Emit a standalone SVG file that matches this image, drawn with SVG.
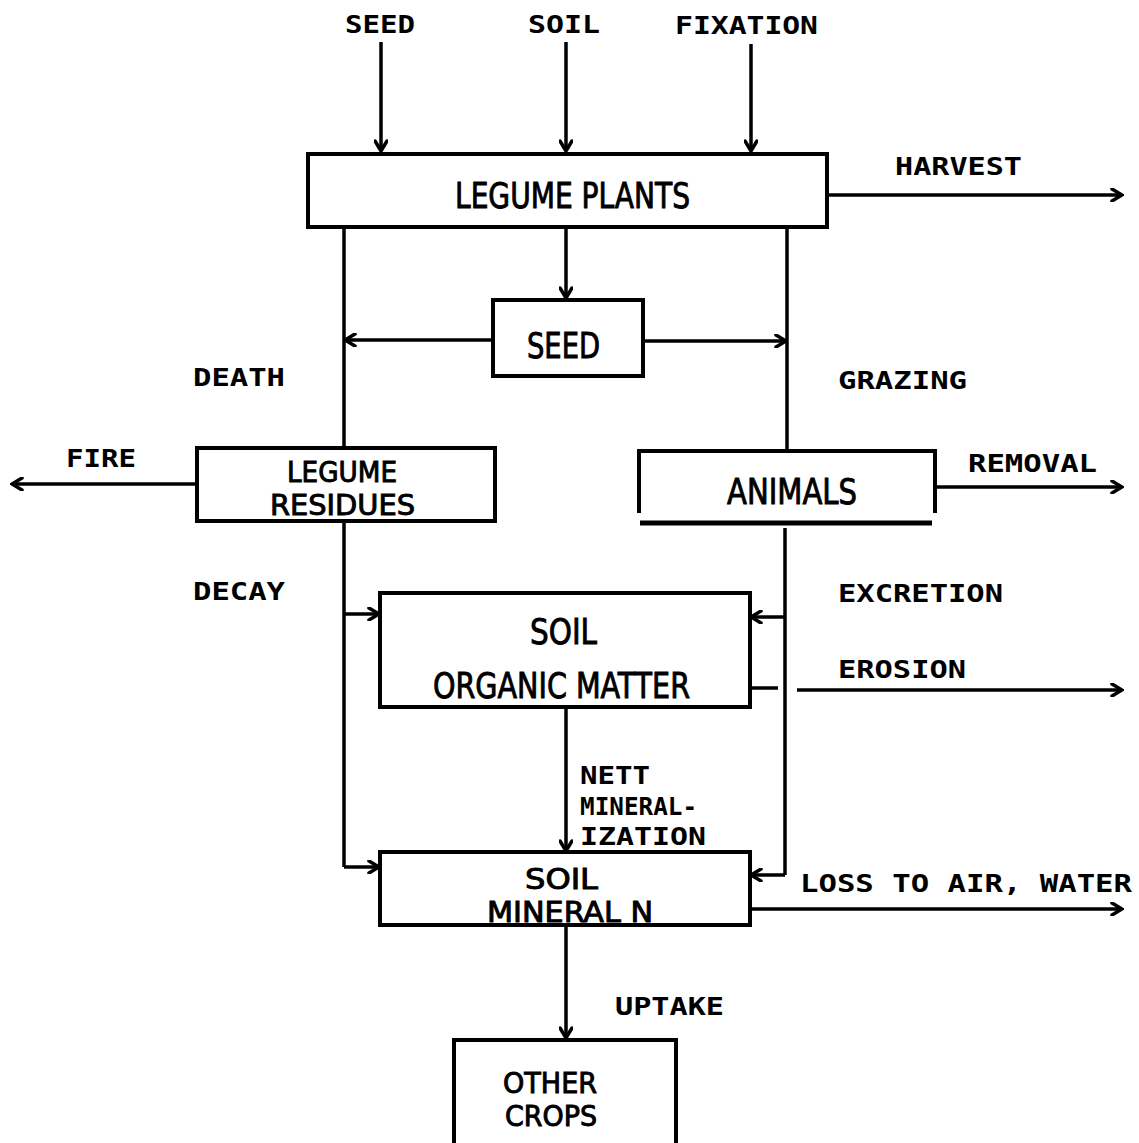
<svg xmlns="http://www.w3.org/2000/svg" width="1139" height="1143" viewBox="0 0 1139 1143">
<style>
.box{fill:none;stroke:#000;stroke-width:4}
.ln{fill:none;stroke:#000;stroke-width:3.5}
.lb{font-family:"DejaVu Sans Mono","Liberation Mono",monospace;font-weight:bold;font-size:24px;fill:#000}
.bx{font-family:"DejaVu Sans Condensed","Liberation Sans Narrow","Liberation Sans",sans-serif;font-size:36px;fill:#000;stroke:#000;stroke-width:0.9}
.b2{font-size:29px}
.a{marker-end:url(#ah)}
</style>
<defs>
<marker id="ah" markerWidth="14" markerHeight="14" viewBox="-12 -7 14 14" refX="0" refY="0" orient="auto" markerUnits="userSpaceOnUse">
<path d="M-10,-6 L0,0 L-10,6" fill="none" stroke="#000" stroke-width="3.5" stroke-linecap="round"/>
</marker>
</defs>
<rect width="1139" height="1143" fill="#fff"/>
<g id="connectors">
<line class="ln a" x1="381" y1="42" x2="381" y2="151"/>
<line class="ln a" x1="566" y1="42" x2="566" y2="151"/>
<line class="ln a" x1="751" y1="44" x2="751" y2="151"/>
<line class="ln a" x1="827" y1="195" x2="1122" y2="195"/>
<line class="ln a" x1="566" y1="227" x2="566" y2="298"/>
<line class="ln" x1="344" y1="227" x2="344" y2="447"/>
<line class="ln" x1="787" y1="227" x2="787" y2="450"/>
<line class="ln a" x1="493" y1="340" x2="345" y2="340"/>
<line class="ln a" x1="643" y1="341" x2="786" y2="341"/>
<line class="ln a" x1="197" y1="484" x2="12" y2="484"/>
<line class="ln a" x1="935" y1="487" x2="1122" y2="487"/>
<line class="ln" x1="344" y1="521" x2="344" y2="867"/>
<line class="ln a" x1="344" y1="614" x2="379" y2="614"/>
<line class="ln a" x1="344" y1="867" x2="379" y2="867"/>
<line class="ln" x1="785" y1="528" x2="785" y2="875"/>
<line class="ln a" x1="785" y1="617" x2="751" y2="617"/>
<line class="ln a" x1="785" y1="875" x2="751" y2="875"/>
<line class="ln" x1="750" y1="688" x2="778" y2="688"/>
<line class="ln a" x1="797" y1="690" x2="1122" y2="690"/>
<line class="ln a" x1="566" y1="707" x2="566" y2="851"/>
<line class="ln a" x1="750" y1="909" x2="1122" y2="909"/>
<line class="ln a" x1="566" y1="925" x2="566" y2="1038"/>
</g>
<g id="labels">
<text class="lb" x="345" y="33" textLength="70" lengthAdjust="spacingAndGlyphs">SEED</text>
<text class="lb" x="528" y="33" textLength="72" lengthAdjust="spacingAndGlyphs">SOIL</text>
<text class="lb" x="675" y="34" textLength="143" lengthAdjust="spacingAndGlyphs">FIXATION</text>
<text class="lb" x="895" y="175" textLength="127" lengthAdjust="spacingAndGlyphs">HARVEST</text>
<text class="lb" x="193" y="386" textLength="92" lengthAdjust="spacingAndGlyphs">DEATH</text>
<text class="lb" x="838" y="389" textLength="129" lengthAdjust="spacingAndGlyphs">GRAZING</text>
<text class="lb" x="66" y="467" textLength="70" lengthAdjust="spacingAndGlyphs">FIRE</text>
<text class="lb" x="968" y="472" textLength="129" lengthAdjust="spacingAndGlyphs">REMOVAL</text>
<text class="lb" x="193" y="600" textLength="92" lengthAdjust="spacingAndGlyphs">DECAY</text>
<text class="lb" x="838" y="602" textLength="165" lengthAdjust="spacingAndGlyphs">EXCRETION</text>
<text class="lb" x="838" y="678" textLength="128" lengthAdjust="spacingAndGlyphs">EROSION</text>
<text class="lb" x="580" y="784" textLength="70" lengthAdjust="spacingAndGlyphs">NETT</text>
<text class="lb" x="580" y="815" textLength="117" lengthAdjust="spacingAndGlyphs">MINERAL-</text>
<text class="lb" x="580" y="845" textLength="126" lengthAdjust="spacingAndGlyphs">IZATION</text>
<text class="lb" x="800" y="892" textLength="332" lengthAdjust="spacingAndGlyphs">LOSS TO AIR, WATER</text>
<text class="lb" x="615" y="1015" textLength="109" lengthAdjust="spacingAndGlyphs">UPTAKE</text>
</g>
<g id="legume-plants">
<rect class="box" x="308" y="154" width="519" height="73"/>
<text class="bx" x="455" y="208" textLength="235" lengthAdjust="spacingAndGlyphs">LEGUME PLANTS</text>
</g>
<g id="seed">
<rect class="box" x="493" y="300" width="150" height="76"/>
<text class="bx" x="527" y="358" textLength="73" lengthAdjust="spacingAndGlyphs">SEED</text>
</g>
<g id="legume-residues">
<rect class="box" x="197" y="448" width="298" height="73"/>
<text class="bx b2" x="287" y="482" textLength="110" lengthAdjust="spacingAndGlyphs">LEGUME</text>
<text class="bx b2" x="270" y="515" textLength="145" lengthAdjust="spacingAndGlyphs">RESIDUES</text>
</g>
<g id="animals">
<path class="box" d="M639,513 V451 H935 V513"/>
<line x1="640" y1="523" x2="932" y2="523" stroke="#000" stroke-width="5"/>
<text class="bx" x="727" y="504" textLength="130" lengthAdjust="spacingAndGlyphs">ANIMALS</text>
</g>
<g id="soil-organic-matter">
<rect class="box" x="380" y="593" width="370" height="114"/>
<text class="bx" x="530" y="644" textLength="67" lengthAdjust="spacingAndGlyphs">SOIL</text>
<text class="bx" x="433" y="698" textLength="257" lengthAdjust="spacingAndGlyphs">ORGANIC MATTER</text>
</g>
<g id="soil-mineral-n">
<rect class="box" x="380" y="852" width="370" height="73"/>
<text class="bx b2" x="525" y="889" textLength="73" lengthAdjust="spacingAndGlyphs">SOIL</text>
<text class="bx b2" x="487" y="922" textLength="166" lengthAdjust="spacingAndGlyphs">MINERAL N</text>
</g>
<g id="other-crops">
<path class="box" d="M454,1145 V1040 H676 V1145"/>
<text class="bx b2" x="503" y="1093" textLength="94" lengthAdjust="spacingAndGlyphs">OTHER</text>
<text class="bx b2" x="505" y="1126" textLength="92" lengthAdjust="spacingAndGlyphs">CROPS</text>
</g>
</svg>
